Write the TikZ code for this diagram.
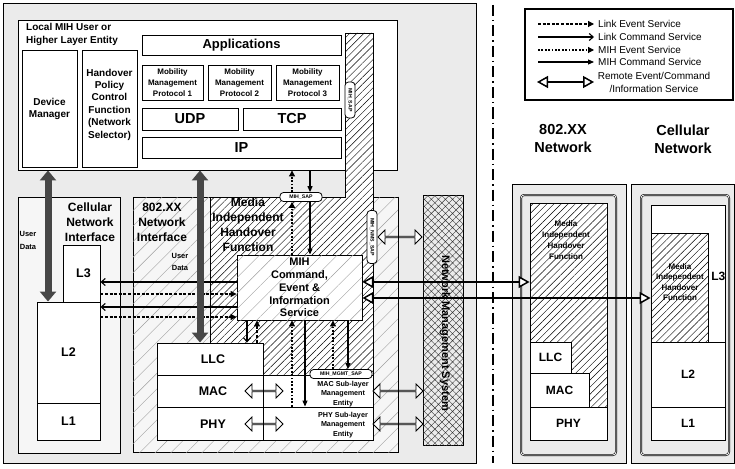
\documentclass[tikz,border=0pt]{standalone}
\usepackage{fontspec}
\setmainfont{Liberation Sans}
\usetikzlibrary{arrows.meta,patterns,patterns.meta,shapes.arrows,fit}
\newcommand\fsz[2]{\fontsize{#1}{#2}\selectfont}
\colorlet{bgc}{gray!16}
\colorlet{bgc2}{gray!7}
\begin{document}
\begin{tikzpicture}[x=1pt,y=-1pt,
  bx/.style={draw, line width=0.9pt, inner sep=0pt},
  wbox/.style={bx, fill=white},
  hatchbox/.style={bx, fill=white, postaction={pattern={Lines[angle=45,distance=5pt,line width=0.45pt]}, pattern color=black}},
  sparse/.style={postaction={pattern={Lines[angle=45,distance=11pt,line width=0.4pt]}, pattern color=gray!75}},
  tx/.style={inner sep=0pt, align=center, font=\fsz{#1}{#1}\bfseries},
  sap/.style={draw, fill=white, line width=0.8pt, rounded corners=3.5pt, font=\fsz{5.2}{6}\bfseries, inner sep=1pt, minimum height=9pt},
  harrow/.style={double arrow, draw, fill=white, line width=0.8pt, minimum width=14pt, double arrow head extend=3.5pt, inner sep=0pt},
  lcmd/.style={line width=1.1pt, -{Straight Barb[length=4pt,width=7pt,line width=1.1pt]}},
  levt/.style={line width=1.1pt, dash pattern=on 3pt off 1.6pt, -{Triangle[length=6pt,width=6pt]}},
  mevt/.style={line width=1.1pt, dash pattern=on 1.8pt off 1.6pt, -{Triangle[length=6pt,width=6pt]}},
  mcmd/.style={line width=1.1pt, -{Triangle[length=6pt,width=5pt]}},
  rarr/.style={line width=2.4pt, {Triangle[open,fill=white,length=11pt,width=12pt,line width=1.5pt]}-{Triangle[open,fill=white,length=11pt,width=12pt,line width=1.5pt]}},
  udarr/.style={line width=7pt, draw=black!72, {Triangle[length=10pt,width=16pt]}-{Triangle[length=10pt,width=16pt]}},
  dashdot/.style={line width=1.3pt, dash pattern=on 11pt off 4pt on 1.5pt off 4pt}
]
\useasboundingbox (0,0) rectangle (735,468);
\fill[white] (0,0) rectangle (735,468);

% ---------- left (local) side ----------
\node[bx, fill=bgc, fit={(3,3) (476,463)}] (outerL) {};
\node[wbox, fit={(18,20) (397,170)}] (top) {};
\node[anchor=north west, inner sep=0pt, align=left, font=\fsz{10}{13.5}\bfseries] (toptitle) at (26,23) {Local MIH User or\\Higher Layer Entity};
\node[wbox, fit={(22,50) (77,167)}] (dm) {};
\node[tx=10, font=\fsz{10}{12}\bfseries] (dmt) at (dm.center) {Device\\Manager};
\node[wbox, fit={(82,50) (137,167)}] (hp) {};
\node[tx=10, font=\fsz{10}{12.4}\bfseries] (hpt) at ([yshift=4pt]hp.center) {Handover\\Policy\\Control\\Function\\(Network\\Selector)};
\node[wbox, fit={(142,35) (341,55)}] (apps) {};
\node[tx=13] (appst) at (apps.center) {Applications};
\node[wbox, fit={(142,65) (203,100)}] (mmp1) {};
\node[wbox, fit={(208,65) (271,100)}] (mmp2) {};
\node[wbox, fit={(276,65) (339,100)}] (mmp3) {};
\node[tx=8, font=\fsz{8}{10.7}\bfseries] (mmp1t) at (mmp1.center) {Mobility\\Management\\Protocol 1};
\node[tx=8, font=\fsz{8}{10.7}\bfseries] (mmp2t) at (mmp2.center) {Mobility\\Management\\Protocol 2};
\node[tx=8, font=\fsz{8}{10.7}\bfseries] (mmp3t) at (mmp3.center) {Mobility\\Management\\Protocol 3};
\node[wbox, fit={(142,108) (238,130)}] (udp) {};
\node[wbox, fit={(243,108) (341,130)}] (tcp) {};
\node[wbox, fit={(142,137) (341,158)}] (ip) {};
\node[tx=14.5] (udpt) at (udp.center) {UDP};
\node[tx=14.5] (tcpt) at (tcp.center) {TCP};
\node[tx=14.5] (ipt) at (ip.center) {IP};

% cellular network interface
\node[bx, fill=bgc2, fit={(18,197) (120,453)}] (cif) {};
\node[tx=12, font=\fsz{12}{15}\bfseries] (ciftxt) at (90,222) {Cellular\\Network\\Interface};
\node[wbox, fit={(63,245) (100,302)}] (l3) {};
\node[wbox, fit={(37,302) (100,403)}] (l2) {};
\node[wbox, fit={(37,403) (100,440)}] (l1) {};
\node[tx=12.5] (l3t) at ([xshift=2pt]l3.center) {L3};
\node[tx=12.5] (l2t) at (l2.center) {L2};
\node[tx=12.5] (l1t) at (l1.center) {L1};
\node[tx=7.5, font=\fsz{7.5}{13}\bfseries] (ud1) at (28,240) {User\\Data};

% 802.XX network interface
\node[bx, fill=bgc2, sparse, fit={(133,197) (398,452)}] (wif) {};
\node[tx=12, font=\fsz{12}{15}\bfseries] (wiftxt) at (162,222) {802.XX\\Network\\Interface};
\node[tx=7.5, font=\fsz{7.5}{12.5}\bfseries] (ud2) at (180,262) {User\\Data};

% MIHF region
\draw[line width=0.9pt, fill=white, postaction={pattern={Lines[angle=45,distance=5pt,line width=0.45pt]}, pattern color=black}]
  (345,33) -- (373,33) -- (373,375) -- (263,375) -- (263,343) -- (210,343) -- (210,197) -- (345,197) -- cycle;
\node[tx=12, font=\fsz{12}{15}\bfseries] (mihftxt) at (248,225) {Media\\Independent\\Handover\\Function};

% MIH command/event/information service
\node[bx, fill=white, sparse, fit={(237,255) (362,320)}] (mih) {};
\node[tx=11, font=\fsz{11}{12.8}\bfseries] (miht) at (mih.center) {MIH\\Command,\\Event \&\\Information\\Service};

% LLC / MAC / PHY
\node[wbox, fit={(157,343) (263,375)}] (llc) {};
\node[wbox, fit={(157,375) (373,407)}] (mac) {};
\node[wbox, fit={(157,407) (373,440)}] (phy) {};
\node[tx=12.5] (llctxt) at (213,359) {LLC};
\node[tx=12.5] (mactxt) at (213,391) {MAC};
\node[tx=12.5] (phytxt) at (213,424) {PHY};
\node[tx=7.2, font=\fsz{7.2}{9.6}\bfseries] (macme) at (343,394) {MAC Sub-layer\\Management\\Entity};
\node[tx=7.2, font=\fsz{7.2}{9.6}\bfseries] (phyme) at (343,425) {PHY Sub-layer\\Management\\Entity};

% network management system
\node[bx, fill=bgc, postaction={pattern={Hatch[angle=45,distance=5pt,line width=0.4pt]}, pattern color=black!80}, fit={(423,195) (463,445)}] (nms) {};
\node[rotate=-90, tx=11] (nmstxt) at (445,333) {Network Management System};

% hollow double arrows
\node[harrow, minimum height=44pt] (ha1) at (400,237) {};
\node[harrow, minimum height=38pt] (ha2) at (264,391) {};
\node[harrow, minimum height=38pt] (ha3) at (264,424) {};
\node[harrow, minimum height=50pt] (ha4) at (398,391) {};
\node[harrow, minimum height=50pt] (ha5) at (398,424) {};
\draw[line width=0.9pt] (llc.south east) -- (llc.south east |- phy.south);
\draw[line width=0.9pt] (wif.north east) -- (wif.south east);

% SAP labels
\node[sap, minimum width=42pt] (sap1) at (301,197) {MIH\_SAP};
\node[sap, rotate=-90, minimum width=36pt, minimum height=10pt] (sap2) at (350,100) {MIH\_SAP};
\node[sap, rotate=-90, minimum width=53pt, minimum height=10pt] (sap3) at (372,237) {MIH\_NMS\_SAP};
\node[sap, minimum width=62pt] (sap4) at (341,374) {MIH\_MGMT\_SAP};

% link arrows to L3 / L2
\draw[lcmd] (mih.west |- 0,282) -- (l3.east |- 0,282);
\draw[levt] (l3.east |- 0,294) -- (mih.west |- 0,294);
\draw[lcmd] (mih.west |- 0,307) -- (l2.east |- 0,307);
\draw[levt] (l2.east |- 0,317) -- (mih.west |- 0,317);

% arrows below MIH box
\draw[lcmd] (mih.south -| 247,0) -- (llc.north -| 247,0);
\draw[levt] (llc.north -| 257,0) -- (mih.south -| 257,0);
\draw[mevt] (phy.north -| 292,0) -- (mih.south -| 292,0);
\draw[mcmd] (mih.south -| 305,0) -- (phy.north -| 305,0);
\draw[mevt] (sap4.north -| 333,0) -- (mih.south -| 333,0);
\draw[mcmd] (mih.south -| 348,0) -- (sap4.north -| 348,0);

% arrows via MIH_SAP
\draw[mevt] (mih.north -| 292,0) -- (sap1.south -| 292,0);
\draw[mevt] (sap1.north -| 292,0) -- (top.south -| 292,0);
\draw[mcmd] (top.south -| 310,0) -- (sap1.north -| 310,0);
\draw[mcmd] (sap1.south -| 310,0) -- (mih.north -| 310,0);

% user data arrows
\draw[udarr] (top.south -| 48,0) -- (l2.north -| 48,0);
\draw[udarr] (top.south -| 200,0) -- (llc.north -| 200,0);

% ---------- separator ----------
\coordinate (dd1) at (493,5);
\coordinate (dd2) at (493,463);
\draw[dashdot] (dd1) -- (dd2);

% ---------- legend ----------
\node[draw, line width=1.3pt, fill=white, inner sep=0pt, fit={(525,9) (733,100)}] (leg) {};
\coordinate (a1) at (538,24); \coordinate (b1) at (594,24);
\coordinate (a2) at (538,37); \coordinate (b2) at (594,37);
\coordinate (a3) at (538,50); \coordinate (b3) at (594,50);
\coordinate (a4) at (538,62); \coordinate (b4) at (594,62);
\coordinate (a5) at (537,82); \coordinate (b5) at (594,82);
\draw[levt] (a1) -- (b1);
\draw[lcmd] (a2) -- (b2);
\draw[mevt] (a3) -- (b3);
\draw[mcmd] (a4) -- (b4);
\draw[rarr, line width=1.8pt] (a5) -- (b5);
\node[anchor=west, inner sep=0pt, font=\fsz{10}{11}] (t1) at (598,24) {Link Event Service};
\node[anchor=west, inner sep=0pt, font=\fsz{10}{11}] (t2) at (598,37) {Link Command Service};
\node[anchor=west, inner sep=0pt, font=\fsz{10}{11}] (t3) at (598,50) {MIH Event Service};
\node[anchor=west, inner sep=0pt, font=\fsz{10}{11}] (t4) at (598,62) {MIH Command Service};
\node[align=center, inner sep=0pt, font=\fsz{10}{13}] (t5) at (654,82) {Remote Event/Command\\/Information Service};

% ---------- headings ----------
\node[tx=14.5, font=\fsz{14.5}{18}\bfseries] (h802) at (563,139) {802.XX\\Network};
\node[tx=14.5, font=\fsz{14.5}{18}\bfseries] (hcell) at (683,139) {Cellular\\Network};

% ---------- remote 802.XX network ----------
\node[bx, fill=bgc, fit={(512,184) (626,463)}] (r8o) {};
\node[draw, double, double distance=0.8pt, line width=0.6pt, rounded corners=3pt, inner sep=0pt, fit={(521,195) (616,455)}] (r8m) {};
\node[hatchbox, fit={(530,203) (607,440)}] (r8mihf) {};
\node[tx=8, font=\fsz{8}{11}\bfseries] (r8txt) at (566,240) {Media\\Independent\\Handover\\Function};
\node[wbox, fit={(530,342) (571,373)}] (r8llc) {};
\node[wbox, fit={(530,373) (589,407)}] (r8mac) {};
\node[wbox, fit={(530,407) (607,440)}] (r8phy) {};
\node[tx=12] (r8llct) at (r8llc.center) {LLC};
\node[tx=12] (r8mact) at (r8mac.center) {MAC};
\node[tx=12] (r8phyt) at (r8phy.center) {PHY};

% ---------- remote cellular network ----------
\node[bx, fill=bgc, fit={(631,184) (734,463)}] (rco) {};
\node[draw, double, double distance=0.8pt, line width=0.6pt, rounded corners=3pt, inner sep=0pt, fit={(641,195) (729,455)}] (rcm) {};
\node[wbox, fit={(651,205) (725,342)}] (rcl3) {};
\node[anchor=east, inner sep=1pt, tx=12] (rcl3txt) at (rcl3.east |- 0,276) {L3};
\node[hatchbox, fit={(651,233) (708,342)}] (rcmihf) {};
\node[tx=8, font=\fsz{8}{10.5}\bfseries] (rcmihft) at (680,282) {Media\\Independent\\Handover\\Function};
\node[wbox, fit={(651,342) (725,407)}] (rcl2) {};
\node[wbox, fit={(651,407) (725,440)}] (rcl1) {};
\node[tx=12] (rcl2t) at (rcl2.center) {L2};
\node[tx=12] (rcl1t) at (rcl1.center) {L1};

% ---------- remote arrows ----------
\draw[rarr] (mih.east |- 0,282) -- (r8mihf.west |- 0,282);
\draw[rarr] (mih.east |- 0,298) -- (rcmihf.west |- 0,298);
\end{tikzpicture}
\end{document}
